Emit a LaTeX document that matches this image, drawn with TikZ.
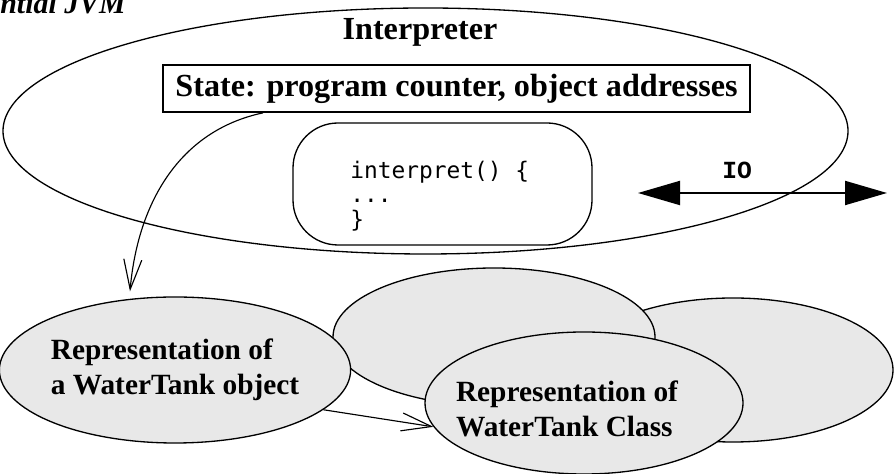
\documentclass[tikz,border=0pt]{standalone}
\usepackage{fontspec}
\setmainfont{Liberation Serif}
\newfontfamily\codefont{DejaVu Sans Mono}
\newfontfamily\iofont{Liberation Mono}
\usetikzlibrary{shapes.geometric, arrows.meta}
\definecolor{repgray}{gray}{0.91}

\begin{document}
\begin{tikzpicture}[
	bigfont/.style={font=\fontsize{16.7}{20}\selectfont\bfseries},
	headfont/.style={font=\fontsize{18.3}{22}\selectfont\bfseries},
	rep/.style={ellipse, draw, fill=repgray, line width=0.75pt, inner sep=0pt, align=left, bigfont},
	openarrow/.style={-{Straight Barb[length=0.6cm, width=0.36cm]}, line width=0.65pt},
	ioarrow/.style={{Triangle[length=0.84cm, width=0.48cm]}-{Triangle[length=0.84cm, width=0.48cm]}, line width=1.1pt}
]

	\useasboundingbox (0,0) rectangle (17.88,9.48);

	\node[anchor=base west, inner sep=0pt, font=\fontsize{17}{20}\selectfont\bfseries\itshape] (title) at (0,9.2) {ntial JVM};

	% interpreter
	\node[ellipse, draw, line width=0.75pt, minimum width=16.9cm, minimum height=4.92cm] (jvm) at (8.51,6.86) {};
	\node[headfont] (interp) at (8.4,8.84) {Interpreter};
	\node[draw, line width=1pt, minimum width=11.74cm, minimum height=0.94cm, headfont] (state) at (9.13,7.71) {State: program counter, object addresses};
	\node[draw, line width=0.75pt, rounded corners=0.9cm, minimum width=5.98cm, minimum height=2.44cm] (code) at (8.85,5.80) {};
	\node[anchor=west, inner sep=0pt, align=left, font=\codefont\fontsize{13}{13.8}\selectfont] (codetext) at (7.0,5.56) {interpret() \{\\...\\\}};

	% IO
	\coordinate (iol) at (12.76,5.62);
	\coordinate (ior) at (17.74,5.62);
	\draw[ioarrow] (iol) -- (ior);
	\node[font=\iofont\bfseries\fontsize{14}{16}\selectfont] (io) at (14.74,6.08) {IO};

	% representations
	\node[rep, minimum width=6.4cm, minimum height=2.88cm] (back2) at (14.66,2.08) {};
	\node[rep, minimum width=6.44cm, minimum height=2.76cm] (back1) at (9.88,2.74) {};
	\node[rep, minimum width=6.4cm, minimum height=2.92cm] (obj) at (3.5,2.08) {Representation of\\a WaterTank object};
	\node[rep, minimum width=6.36cm, minimum height=2.84cm] (cls) at (11.68,1.42) {};
	\node[bigfont, align=left] (clstext) at (11.34,1.30) {Representation of\\WaterTank Class};

	\draw[openarrow] ([xshift=-3.87cm]state.south) to[out=192, in=85] ([xshift=-0.9cm, yshift=0.1cm]obj.north);
	\draw[openarrow] (obj.-15) -- (cls.189);

\end{tikzpicture}
\end{document}
